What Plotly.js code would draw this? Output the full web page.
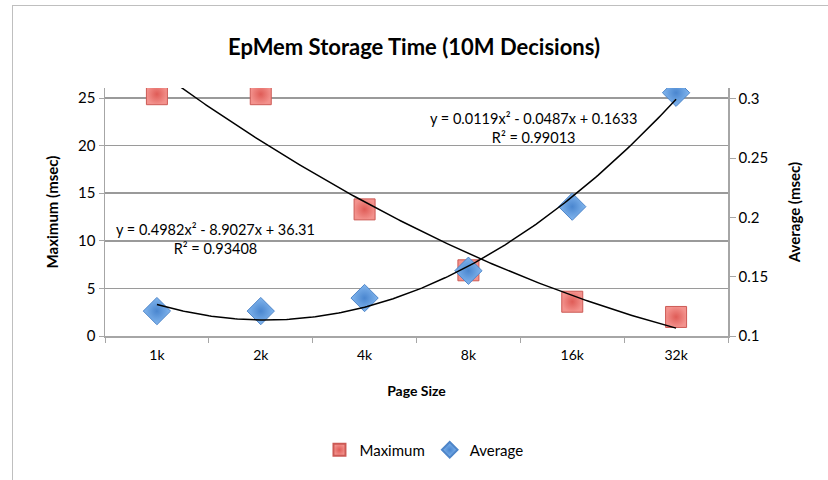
<!DOCTYPE html>
<html>
<head>
<meta charset="utf-8">
<script src="https://cdn.plot.ly/plotly-3.0.1.min.js"></script>
<style>
  html, body { margin: 0; padding: 0; background: #ffffff; }
  #frame { position: absolute; left: 12px; top: 5px; width: 840px; height: 500px;
           border-left: 1px solid #bfbfbf; border-top: 1px solid #bfbfbf; }
  #chart { position: absolute; left: 0; top: 0; width: 828px; height: 480px; }
</style>
</head>
<body>
<div id="frame"></div>
<div id="chart"></div>
<script>
// ---- data ----
const pageSizes = ["1k", "2k", "4k", "8k", "16k", "32k"];
const maximumMsec = [25.4, 25.4, 13.3, 6.9, 3.6, 2.0];
const averageMsec = [0.121, 0.121, 0.132, 0.155, 0.209, 0.305];
// polynomial trendline coefficients as printed on the chart (x = 1..6): [a, b, c] for a x^2 + b x + c
const maxTrendCoef = [0.4982, -8.9027, 36.31];
const avgTrendCoef = [0.0119, -0.0487, 0.1633];
const maxTrendLabel = "y = 0.4982x² - 8.9027x + 36.31<br>R² = 0.93408";
const avgTrendLabel = "y = 0.0119x² - 0.0487x + 0.1633<br>R² = 0.99013";

// trend curve sampled over the category span (category index 0..5 -> x = 1..6)
function trendCurve(coef) {
  const xs = [], ys = [];
  const n = pageSizes.length;
  for (let i = 0; i <= 200; i++) {
    const t = (n - 1) * i / 200;      // category index position
    const x = t + 1;                  // trendline x
    xs.push(t);
    ys.push(coef[0] * x * x + coef[1] * x + coef[2]);
  }
  return { xs, ys };
}
const maxCurve = trendCurve(maxTrendCoef);
const avgCurve = trendCurve(avgTrendCoef);

const FONT = "Lato, 'Open Sans', 'DejaVu Sans', sans-serif";

const traces = [
  {
    name: "Maximum", type: "scatter", mode: "markers",
    x: pageSizes, y: maximumMsec, xaxis: "x", yaxis: "y",
    marker: { symbol: "square", size: 21, color: "#f3928d",
              gradient: { type: "radial", color: "#df5c57" },
              line: { color: "#cc5a55", width: 1 } },
    hoverinfo: "x+y"
  },
  {
    name: "Average", type: "scatter", mode: "markers",
    x: pageSizes, y: averageMsec, xaxis: "x", yaxis: "y2",
    marker: { symbol: "diamond", size: 21, color: "#82b6ee",
              gradient: { type: "radial", color: "#4a86cf" },
              line: { color: "#4f86c9", width: 1 } },
    hoverinfo: "x+y"
  },
  {
    name: "Poly. (Maximum)", type: "scatter", mode: "lines",
    x: maxCurve.xs, y: maxCurve.ys, xaxis: "x2", yaxis: "y",
    line: { color: "#000000", width: 1.5 }, showlegend: false, hoverinfo: "skip"
  },
  {
    name: "Poly. (Average)", type: "scatter", mode: "lines",
    x: avgCurve.xs, y: avgCurve.ys, xaxis: "x2", yaxis: "y2",
    line: { color: "#000000", width: 1.5 }, showlegend: false, hoverinfo: "skip"
  }
];

const layout = {
  width: 828, height: 480,
  margin: { l: 105, r: 100, t: 88, b: 144 },
  paper_bgcolor: "rgba(0,0,0,0)", plot_bgcolor: "rgba(0,0,0,0)",
  font: { family: FONT, size: 14, color: "#000000" },
  title: { text: "<b>EpMem Storage Time (10M Decisions)</b>",
           font: { family: FONT, size: 22, color: "#000000" },
           x: 0.5, xanchor: "center", y: 0.902, yanchor: "middle" },
  showlegend: true,
  legend: { orientation: "h", x: 0.512, xanchor: "center", y: -0.46, yanchor: "middle",
            font: { family: FONT, size: 15 }, itemsizing: "constant", itemwidth: 30,
            traceorder: "normal" },
  xaxis: {
    type: "category", categoryorder: "array", categoryarray: pageSizes,
    range: [-0.5, pageSizes.length - 0.5],
    tickson: "boundaries", ticks: "outside", ticklen: 5, tickcolor: "#a6a6a6",
    ticklabelstandoff: 6,
    showline: true, linecolor: "#a6a6a6", linewidth: 1.5,
    showgrid: false, zeroline: false,
    tickfont: { family: FONT, size: 14 },
    title: { text: "<b>Page Size</b>", font: { family: FONT, size: 14 }, standoff: 24 }
  },
  xaxis2: {
    overlaying: "x", range: [-0.5, pageSizes.length - 0.5], visible: false
  },
  yaxis: {
    range: [0, 26.05], dtick: 5, tick0: 0,
    ticks: "outside", ticklen: 5, tickcolor: "#a6a6a6",
    showline: true, linecolor: "#a6a6a6", linewidth: 1.5,
    showgrid: true, gridcolor: "#9a9a9a", gridwidth: 1.5, zeroline: false,
    tickfont: { family: FONT, size: 15 },
    title: { text: "<b>Maximum (msec)</b>", font: { family: FONT, size: 15 }, standoff: 16 }
  },
  yaxis2: {
    overlaying: "y", side: "right",
    range: [0.1, 0.309], dtick: 0.05, tick0: 0.1,
    ticks: "outside", ticklen: 6, tickcolor: "#a6a6a6",
    showline: true, linecolor: "#a6a6a6", linewidth: 1.5,
    showgrid: false, zeroline: false,
    tickfont: { family: FONT, size: 15 },
    title: { text: "<b>Average (msec)</b>", font: { family: FONT, size: 15 }, standoff: 22 }
  },
  annotations: [
    { text: maxTrendLabel, xref: "paper", yref: "paper", x: 0.178, y: 0.393,
      xanchor: "center", yanchor: "middle", showarrow: false, align: "center",
      font: { family: FONT, size: 14.5, color: "#000000" } },
    { text: avgTrendLabel, xref: "paper", yref: "paper", x: 0.687, y: 0.837,
      xanchor: "center", yanchor: "middle", showarrow: false, align: "center",
      font: { family: FONT, size: 14.5, color: "#000000" } }
  ]
};

Plotly.newPlot("chart", traces, layout, { displayModeBar: false, staticPlot: true });
</script>
</body>
</html>
